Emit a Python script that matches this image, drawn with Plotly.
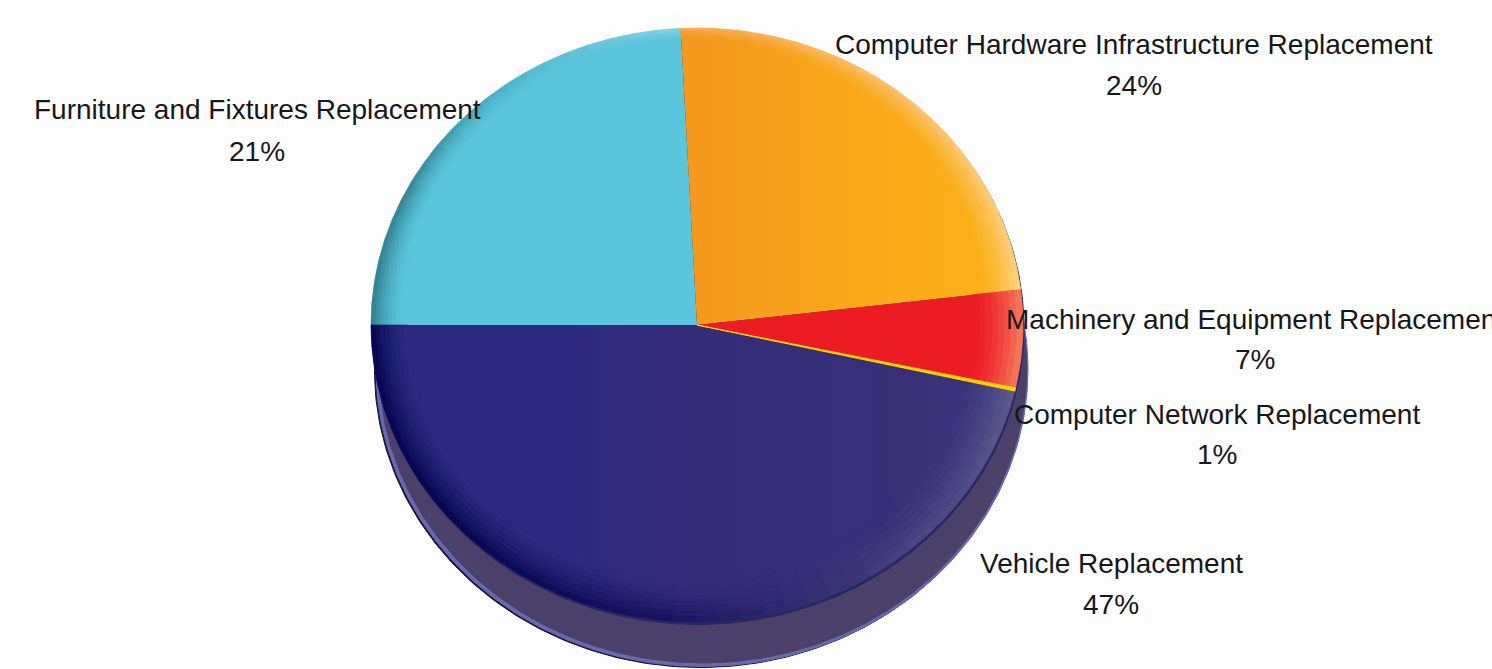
import math
import plotly.graph_objects as go

# ---- data ----
categories = ["Furniture and Fixtures Replacement",
              "Computer Hardware Infrastructure Replacement",
              "Machinery and Equipment Replacement",
              "Computer Network Replacement",
              "Vehicle Replacement"]
printed_percent = [21, 24, 7, 1, 47]
# share of the disc each wedge actually occupies in the picture (the printed labels differ)
drawn_share = [24.2, 23.9, 5.3, 0.17, 46.43]

# ---- styling ----
W, H = 1492, 669
CX, CY, RX, RY = 697, 325, 326, 297
START = 270.0

base_stops = [
    [(-1, "#5ac5dc"), (1, "#5ac5dc")],
    [(0, "#f4981f"), (0.45, "#f8a81a"), (1, "#fbb216")],
    [(0, "#ed1c24"), (1, "#ed1c24")],
    [(-1, "#ffd400"), (1, "#ffd400")],
    [(-1, "#2b2a80"), (-0.35, "#2b2a80"), (-0.1, "#352c78"), (0.6, "#372f76"), (1, "#3d3880")],
]
# colour of the bevel at the outer edge, along the sweep of each wedge
edge_stops = [
    [(0, "#2f7d8e"), (0.3, "#33808f"), (0.65, "#52b6cc"), (1, "#8ad4e5")],
    [(0, "#f7ab55"), (0.4, "#fcc070"), (1, "#fdd486")],
    [(0, "#f47f5e"), (1, "#f47f5e")],
    None,
    [(0, "#5f5c8e"), (0.22, "#4a4582"), (0.5, "#14105e"), (0.75, "#03034e"), (1, "#03034e")],
]
# bevel width (share of radius) at start and end of the sweep
rim_width = [(0.10, 0.04), (0.03, 0.13), (0.15, 0.15), None, (0.17, 0.11)]

BANDS = 8
STEP = 4.0


def h2r(c):
    return tuple(int(c[i:i + 2], 16) for i in (1, 3, 5))


def mix(a, b, t):
    return tuple(a[i] + (b[i] - a[i]) * t for i in range(3))


def ramp(stops, v):
    if v <= stops[0][0]:
        return h2r(stops[0][1])
    for (p0, c0), (p1, c1) in zip(stops, stops[1:]):
        if v <= p1:
            return mix(h2r(c0), h2r(c1), (v - p0) / (p1 - p0))
    return h2r(stops[-1][1])


def css(c):
    return "rgb(%d,%d,%d)" % tuple(round(v) for v in c)


def pt(r, a, dx=0.0, dy=0.0):
    t = math.radians(a)
    return r * math.sin(t) + dx, r * math.cos(t) + dy


def arc(r, a0, a1, dx=0.0, dy=0.0):
    n = max(2, int(abs(a1 - a0) / 1.0) + 1)
    return [pt(r, a0 + (a1 - a0) * i / (n - 1), dx, dy) for i in range(n)]


def poly(points, color, line=None, width=1):
    xs = [p[0] for p in points] + [points[0][0]]
    ys = [p[1] for p in points] + [points[0][1]]
    return go.Scatter(x=xs, y=ys, mode="lines", fill="toself", fillcolor=color,
                      line=dict(color=line or color, width=width),
                      hoverinfo="skip", showlegend=False)


fig = go.Figure()

# extruded underside of the pie
sx = lambda px: (px - CX) / RX
sy = lambda py: (CY - py) / RY
fig.add_trace(poly(arc(1, 0, 360, sx(700.5), sy(370.5)), "#15132f"))
fig.add_trace(poly(arc(1, 0, 360, sx(702), sy(369.5)), "#6a68ac"))
fig.add_trace(poly(arc(0.993, 0, 360, sx(703), sy(368)), "#4a4069"))
fig.add_trace(poly(arc(1, 0, 360, sx(698), sy(327.5)), "#2a2660"))

# wedges
angle = START
spans = []
for share in drawn_share:
    sweep = share / sum(drawn_share) * 360.0
    spans.append((angle, angle + sweep))
    angle += sweep

for i, (a0, a1) in enumerate(spans):
    if edge_stops[i] is None:
        continue
    pts = [(0.0, 0.0)] + arc(1, a0, a1)
    stops = base_stops[i]
    x_min = min(p[0] for p in pts)
    x_max = max(p[0] for p in pts)
    scale = [[(s_v - x_min) / (x_max - x_min), css(ramp(stops, s_v))]
             for s_v in [x_min + (x_max - x_min) * k / 10 for k in range(11)]]
    fig.add_trace(go.Scatter(x=[p[0] for p in pts] + [0], y=[p[1] for p in pts] + [0],
                             mode="lines", fill="toself",
                             fillgradient=dict(type="horizontal", colorscale=scale),
                             line=dict(width=0), hoverinfo="skip", showlegend=False,
                             name=categories[i]))
    # bevel rings
    n_sec = max(1, int((a1 - a0) / STEP))
    w0, w1 = rim_width[i]
    for s in range(n_sec):
        f0, f1 = s / n_sec, (s + 1) / n_sec
        b0, b1 = a0 + (a1 - a0) * f0, a0 + (a1 - a0) * f1
        fm = (f0 + f1) / 2
        w = w0 + (w1 - w0) * fm
        edge = ramp(edge_stops[i], fm)
        for b in range(BANDS):
            r0 = 1 - w * (1 - b / BANDS)
            r1 = 1 - w * (1 - (b + 1) / BANDS)
            rm = (r0 + r1) / 2
            t = ((b + 0.5) / BANDS)
            xm = rm * math.sin(math.radians((b0 + b1) / 2))
            col = mix(ramp(stops, xm), edge, t ** 1.6)
            ring = arc(r0, b0, b1) + arc(r1, b1, b0)
            fig.add_trace(poly(ring, css(col), width=0.7))

# the thin 1% wedge
a0, a1 = spans[3]
fig.add_trace(poly([(0.0, 0.0)] + arc(1, a0, a1), "#ffd400", line="#ffd400", width=1))

# labels: category line and percent line, centred at pixel positions
label_px = [(257, 110, 151), (1134, 45, 86), (1255, 319, 359), (1217, 414, 454), (1111, 563, 604)]
FONT = dict(family="Liberation Sans Narrow, Arial Narrow, sans-serif", size=28, color="#17171a")
for cat, pct, (px, y1, y2) in zip(categories, printed_percent, label_px):
    for txt, py in ((cat, y1), (f"{pct}%", y2)):
        fig.add_annotation(x=px / W, y=1 - py / H, xref="paper", yref="paper",
                           text=txt, showarrow=False, font=FONT,
                           xanchor="center", yanchor="middle")

fig.add_shape(type="rect", xref="paper", yref="paper", x0=35 / W, x1=1, y0=0, y1=1 - 13 / H,
              fillcolor="#fdfdfd", line=dict(width=0), layer="below")

fig.update_layout(
    width=W, height=H, margin=dict(l=0, r=0, t=0, b=0),
    paper_bgcolor="#ffffff", plot_bgcolor="rgba(0,0,0,0)", showlegend=False,
    hovermode=False,
    xaxis=dict(visible=False, range=[-CX / RX, (W - CX) / RX], fixedrange=True),
    yaxis=dict(visible=False, range=[(CY - H) / RY, CY / RY], fixedrange=True),
)

fig.write_html("out.html", config={"displayModeBar": False},
               post_script="document.body.style.margin='0';document.body.style.overflow='hidden';")
